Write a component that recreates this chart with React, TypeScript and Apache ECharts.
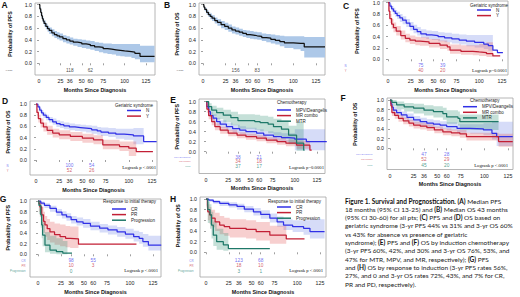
import React, { useEffect, useRef } from "react";
import * as echarts from "echarts";

// ---------------- data ----------------
const MONTH_TICKS = [0, 25, 36, 50, 60, 75, 100, 125];
const PROB_TICKS = [0, 0.2, 0.4, 0.6, 0.8, 1.0];
const RISK_MONTHS = [36, 60];

// A: PFS, all patients
const A_T = [0, 1, 2, 3, 4, 5, 6, 8, 10, 12, 15, 18, 21, 24, 28, 32, 36, 40, 45, 50, 55, 60, 65, 70, 75, 80, 85, 90, 95, 100, 108, 112, 118, 135];
const A_S = [1.0, 0.93, 0.87, 0.81, 0.76, 0.72, 0.68, 0.63, 0.59, 0.56, 0.52, 0.49, 0.47, 0.45, 0.42, 0.4, 0.38, 0.36, 0.35, 0.33, 0.32, 0.3, 0.28, 0.27, 0.25, 0.24, 0.23, 0.22, 0.21, 0.2, 0.19, 0.17, 0.12, 0.12];
const A_LO = [1.0, 0.9, 0.83, 0.77, 0.71, 0.67, 0.63, 0.58, 0.54, 0.5, 0.46, 0.43, 0.41, 0.39, 0.36, 0.34, 0.32, 0.3, 0.28, 0.26, 0.25, 0.23, 0.21, 0.19, 0.17, 0.16, 0.15, 0.13, 0.12, 0.11, 0.09, 0.07, 0.02, 0.02];
const A_HI = [1.0, 0.96, 0.91, 0.85, 0.8, 0.77, 0.73, 0.68, 0.64, 0.61, 0.58, 0.55, 0.53, 0.51, 0.48, 0.46, 0.44, 0.42, 0.41, 0.4, 0.39, 0.38, 0.36, 0.35, 0.34, 0.34, 0.33, 0.33, 0.33, 0.33, 0.33, 0.33, 0.3, 0.3];
const A_RISK = [118, 62];

// B: OS, all patients
const B_T = [0, 1, 2, 4, 6, 8, 10, 13, 16, 20, 24, 28, 32, 36, 40, 44, 48, 52, 56, 60, 65, 70, 75, 80, 85, 90, 100, 108, 112, 135];
const B_S = [1.0, 0.96, 0.92, 0.87, 0.83, 0.8, 0.77, 0.73, 0.7, 0.66, 0.63, 0.6, 0.57, 0.55, 0.53, 0.51, 0.49, 0.48, 0.47, 0.46, 0.44, 0.43, 0.41, 0.39, 0.37, 0.35, 0.34, 0.34, 0.28, 0.28];
const B_LO = [1.0, 0.94, 0.89, 0.83, 0.79, 0.75, 0.72, 0.68, 0.64, 0.6, 0.57, 0.54, 0.51, 0.49, 0.47, 0.45, 0.43, 0.42, 0.41, 0.4, 0.38, 0.36, 0.34, 0.32, 0.29, 0.26, 0.24, 0.21, 0.1, 0.1];
const B_HI = [1.0, 0.98, 0.95, 0.91, 0.87, 0.85, 0.82, 0.78, 0.75, 0.72, 0.69, 0.66, 0.63, 0.61, 0.59, 0.57, 0.56, 0.55, 0.54, 0.53, 0.51, 0.5, 0.49, 0.48, 0.47, 0.46, 0.46, 0.46, 0.45, 0.45];
const B_RISK = [156, 83];

// C: PFS by geriatric syndrome
const C_N_T = [0, 2, 4, 6, 8, 10, 13, 16, 20, 24, 28, 32, 36, 42, 48, 55, 62, 70, 78, 86, 95, 105, 110, 115, 120, 126];
const C_N_S = [1.0, 0.94, 0.89, 0.85, 0.81, 0.77, 0.73, 0.69, 0.64, 0.58, 0.53, 0.49, 0.45, 0.43, 0.42, 0.4, 0.38, 0.36, 0.34, 0.32, 0.3, 0.27, 0.24, 0.16, 0.12, 0.12];
const C_N_LO = [1.0, 0.9, 0.84, 0.79, 0.75, 0.71, 0.66, 0.62, 0.57, 0.51, 0.46, 0.42, 0.38, 0.36, 0.34, 0.32, 0.3, 0.28, 0.26, 0.23, 0.21, 0.18, 0.15, 0.16, 0.12, 0.12];
const C_N_HI = [1.0, 0.98, 0.94, 0.91, 0.87, 0.84, 0.8, 0.76, 0.71, 0.66, 0.61, 0.57, 0.53, 0.51, 0.5, 0.48, 0.47, 0.45, 0.44, 0.43, 0.43, 0.43, 0.43, 0.16, 0.12, 0.12];
const C_N_RISK = [75, 39];
const C_Y_T = [0, 1, 2, 4, 6, 9, 14, 19, 24, 30, 35, 45, 57, 65, 68, 80, 93, 100, 108, 115, 123];
const C_Y_S = [1.0, 0.85, 0.72, 0.62, 0.56, 0.5, 0.42, 0.37, 0.34, 0.32, 0.31, 0.28, 0.25, 0.22, 0.16, 0.14, 0.13, 0.12, 0.1, 0.06, 0.06];
const C_Y_LO = [1.0, 0.78, 0.64, 0.54, 0.48, 0.42, 0.35, 0.3, 0.27, 0.25, 0.24, 0.21, 0.18, 0.15, 0.1, 0.08, 0.07, 0.06, 0.04, 0.06, 0.06];
const C_Y_HI = [1.0, 0.91, 0.8, 0.71, 0.65, 0.59, 0.51, 0.45, 0.42, 0.4, 0.39, 0.36, 0.33, 0.3, 0.26, 0.25, 0.25, 0.27, 0.3, 0.06, 0.06];
const C_Y_RISK = [40, 20];

// D: OS by geriatric syndrome
const D_N_T = [0, 2, 4, 6, 8, 11, 14, 18, 22, 26, 30, 36, 42, 48, 54, 60, 66, 70, 78, 86, 95, 105, 116, 130];
const D_N_S = [1.0, 0.95, 0.89, 0.84, 0.8, 0.76, 0.72, 0.68, 0.65, 0.63, 0.61, 0.59, 0.58, 0.57, 0.56, 0.54, 0.52, 0.5, 0.48, 0.46, 0.45, 0.43, 0.33, 0.33];
const D_N_LO = [1.0, 0.92, 0.85, 0.79, 0.75, 0.71, 0.67, 0.63, 0.59, 0.57, 0.55, 0.53, 0.52, 0.51, 0.49, 0.47, 0.45, 0.43, 0.41, 0.38, 0.36, 0.28, 0.33, 0.33];
const D_N_HI = [1.0, 0.98, 0.93, 0.89, 0.85, 0.81, 0.77, 0.74, 0.71, 0.69, 0.67, 0.65, 0.64, 0.63, 0.62, 0.61, 0.59, 0.58, 0.57, 0.56, 0.56, 0.57, 0.33, 0.33];
const D_N_RISK = [100, 54];
const D_Y_T = [0, 1, 2.5, 5, 8, 12, 18, 25, 37, 50, 62, 72, 90, 100, 108, 126];
const D_Y_S = [1.0, 0.85, 0.74, 0.66, 0.59, 0.53, 0.48, 0.45, 0.42, 0.39, 0.36, 0.27, 0.24, 0.21, 0.15, 0.15];
const D_Y_LO = [1.0, 0.79, 0.67, 0.58, 0.51, 0.45, 0.4, 0.37, 0.34, 0.31, 0.28, 0.19, 0.16, 0.07, 0.15, 0.15];
const D_Y_HI = [1.0, 0.91, 0.81, 0.74, 0.67, 0.61, 0.56, 0.53, 0.5, 0.47, 0.44, 0.36, 0.33, 0.33, 0.15, 0.15];
const D_Y_RISK = [52, 26];

// E: PFS by induction chemotherapy
const E_M_T = [0, 1, 3, 5, 8, 12, 16, 23, 30, 38, 45, 57, 65, 76, 85, 93, 100, 113, 136];
const E_M_S = [1.0, 0.9, 0.8, 0.72, 0.67, 0.6, 0.55, 0.5, 0.46, 0.43, 0.4, 0.37, 0.33, 0.3, 0.28, 0.27, 0.25, 0.2, 0.2];
const E_M_LO = [1.0, 0.84, 0.73, 0.65, 0.59, 0.52, 0.47, 0.42, 0.38, 0.35, 0.32, 0.29, 0.25, 0.22, 0.19, 0.17, 0.03, 0.03, 0.03];
const E_M_HI = [1.0, 0.95, 0.87, 0.8, 0.75, 0.68, 0.63, 0.58, 0.54, 0.51, 0.48, 0.45, 0.41, 0.39, 0.37, 0.37, 0.45, 0.45, 0.45];
const E_M_RISK = [38, 21];
const E_R_T = [0, 1, 3, 6.4, 10, 16, 25, 35, 45, 57, 68, 80, 90, 102, 117, 119];
const E_R_S = [1.0, 0.85, 0.72, 0.6, 0.5, 0.43, 0.37, 0.33, 0.3, 0.27, 0.23, 0.2, 0.17, 0.13, 0.03, 0.03];
const E_R_LO = [1.0, 0.78, 0.65, 0.53, 0.43, 0.36, 0.31, 0.27, 0.24, 0.21, 0.17, 0.14, 0.11, 0.06, 0.03, 0.03];
const E_R_HI = [1.0, 0.9, 0.79, 0.67, 0.57, 0.5, 0.44, 0.39, 0.36, 0.33, 0.29, 0.27, 0.24, 0.22, 0.03, 0.03];
const E_R_RISK = [34, 18];
const E_G_T = [0, 3, 6.4, 12, 19.5, 28, 36, 45, 55, 61, 70, 76, 85, 93, 102, 110, 111];
const E_G_S = [1.0, 0.9, 0.83, 0.78, 0.73, 0.68, 0.62, 0.62, 0.6, 0.58, 0.55, 0.5, 0.45, 0.33, 0.17, 0.03, 0.03];
const E_G_LO = [1.0, 0.8, 0.71, 0.65, 0.59, 0.53, 0.46, 0.46, 0.44, 0.41, 0.37, 0.32, 0.26, 0.15, 0.02, 0.03, 0.03];
const E_G_HI = [1.0, 0.97, 0.92, 0.88, 0.84, 0.8, 0.75, 0.75, 0.74, 0.72, 0.7, 0.66, 0.62, 0.52, 0.6, 0.03, 0.03];
const E_G_RISK = [37, 17];

// F: OS by induction chemotherapy
const F_M_T = [0, 1, 2, 3.5, 7, 12, 18, 25, 32, 39, 46, 53, 60, 71, 85, 99, 108, 113, 130];
const F_M_S = [1.0, 0.92, 0.85, 0.79, 0.74, 0.69, 0.64, 0.59, 0.55, 0.52, 0.5, 0.48, 0.45, 0.41, 0.4, 0.38, 0.31, 0.24, 0.24];
const F_M_LO = [1.0, 0.87, 0.79, 0.72, 0.67, 0.61, 0.56, 0.51, 0.47, 0.44, 0.42, 0.4, 0.37, 0.32, 0.3, 0.27, 0.18, 0.05, 0.05];
const F_M_HI = [1.0, 0.96, 0.91, 0.86, 0.81, 0.76, 0.72, 0.67, 0.63, 0.6, 0.58, 0.56, 0.54, 0.5, 0.5, 0.52, 0.55, 0.55, 0.55];
const F_M_RISK = [47, 28];
const F_R_T = [0, 1, 2, 5, 9, 14, 20, 25, 32, 39, 47, 56, 65, 74, 81, 115, 130];
const F_R_S = [1.0, 0.88, 0.74, 0.68, 0.62, 0.57, 0.52, 0.48, 0.46, 0.43, 0.38, 0.34, 0.32, 0.3, 0.24, 0.14, 0.14];
const F_R_LO = [1.0, 0.83, 0.67, 0.61, 0.55, 0.5, 0.45, 0.41, 0.39, 0.36, 0.31, 0.27, 0.25, 0.22, 0.16, 0.03, 0.03];
const F_R_HI = [1.0, 0.93, 0.81, 0.75, 0.69, 0.64, 0.59, 0.55, 0.53, 0.5, 0.45, 0.41, 0.39, 0.38, 0.32, 0.3, 0.3];
const F_R_RISK = [52, 29];
const F_G_T = [0, 2, 7, 15, 25, 36, 46, 56, 60, 72, 74, 115];
const F_G_S = [1.0, 0.95, 0.9, 0.86, 0.83, 0.79, 0.76, 0.72, 0.65, 0.62, 0.55, 0.55];
const F_G_LO = [1.0, 0.87, 0.81, 0.76, 0.72, 0.68, 0.64, 0.59, 0.51, 0.47, 0.38, 0.38];
const F_G_HI = [1.0, 1.0, 0.97, 0.94, 0.92, 0.89, 0.87, 0.84, 0.79, 0.76, 0.7, 0.7];
const F_G_RISK = [45, 20];

// G: PFS by response to initial therapy
const G_C_T = [0, 3, 7, 13, 20, 26, 31, 36, 42, 49, 57, 67, 76, 86, 95, 104, 110, 114, 120, 134];
const G_C_S = [1.0, 0.96, 0.92, 0.86, 0.79, 0.74, 0.7, 0.65, 0.61, 0.58, 0.53, 0.49, 0.46, 0.42, 0.38, 0.33, 0.3, 0.24, 0.17, 0.17];
const G_C_LO = [1.0, 0.92, 0.87, 0.8, 0.72, 0.67, 0.63, 0.58, 0.54, 0.5, 0.45, 0.41, 0.37, 0.33, 0.29, 0.24, 0.2, 0.14, 0.07, 0.07];
const G_C_HI = [1.0, 0.99, 0.96, 0.91, 0.85, 0.81, 0.77, 0.72, 0.69, 0.66, 0.61, 0.57, 0.54, 0.51, 0.48, 0.44, 0.42, 0.38, 0.35, 0.35];
const G_C_RISK = [98, 55];
const G_P_T = [0, 1, 2, 4, 6, 7.6, 10, 13, 18, 24, 30, 35, 44, 107];
const G_P_S = [1.0, 0.95, 0.89, 0.74, 0.62, 0.55, 0.48, 0.42, 0.37, 0.33, 0.3, 0.29, 0.19, 0.19];
const G_P_LO = [1.0, 0.8, 0.7, 0.52, 0.4, 0.33, 0.27, 0.22, 0.18, 0.15, 0.13, 0.12, 0.19, 0.19];
const G_P_HI = [1.0, 1.0, 0.98, 0.89, 0.8, 0.72, 0.66, 0.61, 0.58, 0.56, 0.53, 0.52, 0.19, 0.19];
const G_P_RISK = [10, 3];
const G_G_T = [0, 1, 3, 4, 5, 7.6, 13, 20, 27, 32, 37];
const G_G_S = [1.0, 0.92, 0.74, 0.55, 0.36, 0.17, 0.08, 0.05, 0.02, 0.02, 0.02];
const G_G_LO = [1.0, 0.75, 0.5, 0.3, 0.15, 0.04, 0.01, 0.0, 0.0, 0.02, 0.02];
const G_G_HI = [1.0, 1.0, 0.92, 0.78, 0.6, 0.42, 0.35, 0.3, 0.25, 0.02, 0.02];
const G_G_RISK = [0];

// H: OS by response to initial therapy
const H_C_T = [0, 3, 8, 15, 25, 34, 42, 52, 60, 70, 78, 85, 95, 107, 114, 130];
const H_C_S = [1.0, 0.98, 0.95, 0.92, 0.89, 0.86, 0.81, 0.76, 0.71, 0.64, 0.57, 0.51, 0.48, 0.45, 0.39, 0.39];
const H_C_LO = [1.0, 0.95, 0.91, 0.87, 0.84, 0.8, 0.75, 0.69, 0.63, 0.56, 0.48, 0.42, 0.38, 0.33, 0.26, 0.26];
const H_C_HI = [1.0, 1.0, 0.98, 0.96, 0.94, 0.91, 0.87, 0.83, 0.79, 0.73, 0.67, 0.62, 0.6, 0.6, 0.62, 0.62];
const H_C_RISK = [123, 68];
const H_P_T = [0, 1.5, 2, 4, 6, 10, 15, 20, 26, 44, 55, 70, 88, 108];
const H_P_S = [1.0, 0.89, 0.76, 0.7, 0.64, 0.57, 0.51, 0.48, 0.45, 0.43, 0.39, 0.32, 0.25, 0.25];
const H_P_LO = [1.0, 0.75, 0.6, 0.53, 0.47, 0.4, 0.34, 0.31, 0.28, 0.26, 0.22, 0.16, 0.25, 0.25];
const H_P_HI = [1.0, 0.98, 0.9, 0.85, 0.8, 0.74, 0.68, 0.65, 0.62, 0.6, 0.57, 0.5, 0.25, 0.25];
const H_P_RISK = [18, 10];
const H_G_T = [0, 2, 4.4, 6, 8, 11.7, 19, 24.5, 70];
const H_G_S = [1.0, 0.8, 0.7, 0.51, 0.32, 0.2, 0.14, 0.07, 0.07];
const H_G_LO = [1.0, 0.55, 0.44, 0.26, 0.12, 0.05, 0.03, 0.07, 0.07];
const H_G_HI = [1.0, 0.95, 0.9, 0.76, 0.58, 0.44, 0.36, 0.07, 0.07];
const H_G_RISK = [3, 1];

const CAPTION_LINES = [
  "{b|Figure 1. Survival and Prognostication. (A)} Median PFS",
  "18 months (95% CI 13-25) and {b|(B)} Median OS 43 months",
  "(95% CI 30-60) for all pts; {b|(C)} PFS and {b|(D)} OS based on",
  "geriatric syndrome (3-yr PFS 44% vs 31% and 3-yr OS 60%",
  "vs 43% for absence vs presence of geriatric",
  "syndrome); {b|(E)} PFS and {b|(F)} OS by induction chemotherapy",
  "(3-yr PFS 60%, 42%, and 30% and 3-yr OS 76%, 53%, and",
  "47% for MTR, MPV, and MR, respectively); {b|(G)} PFS",
  "and {b|(H)} OS by response to induction (3-yr PFS rates 56%,",
  "27%, and 0 and 3-yr OS rates 72%, 43%, and 7% for CR,",
  "PR and PD, respectively).",
];

// ---------------- styles ----------------
const FONT = "'Liberation Sans', Arial, sans-serif";
const SERIF = "'Liberation Serif', 'Times New Roman', serif";
const BLACK = { color: "#111111", band: "#adc8e8", risk: "#111111" };
const BLUE = { color: "#3030e6", band: "rgba(70,95,225,0.22)", risk: "#4a4aee" };
const RED = { color: "#c21f35", band: "rgba(225,70,70,0.26)", risk: "#c83446" };
const GREEN = { color: "#1e7868", band: "rgba(40,140,110,0.27)", risk: "#258574" };

const mk = (name: string, rowLabel: string, pal: any, t: number[], s: number[], lo: number[], hi: number[], risk: number[]) => ({
  name, rowLabel, color: pal.color, band: pal.band, riskColor: pal.risk, t, s, lo, hi, risk,
});

const PANELS: any[] = [
  {
    letter: "A", lx: 4.5, ly: 5, box: { l: 35, r: 155, t: 3, b: 75 }, x0: 39, x125: 146, y1: 4.7, y0: 63.3,
    yTitle: "Probability of PFS", yTitleX: 10, rows: [70], rowRight: 13, rowFont: 2.4,
    curves: [mk("All PFS", "At Risk", BLACK, A_T, A_S, A_LO, A_HI, A_RISK)],
  },
  {
    letter: "B", lx: 167, ly: 5, box: { l: 199, r: 325, t: 3, b: 75 }, x0: 203, x125: 316, y1: 4.7, y0: 63.3,
    yTitle: "Probability of OS", yTitleX: 177, rows: [70], rowRight: 184, rowFont: 2.4,
    curves: [mk("All OS", "At Risk", BLACK, B_T, B_S, B_LO, B_HI, B_RISK)],
  },
  {
    letter: "C", lx: 346, ly: 6, box: { l: 383, r: 508, t: 1, b: 75 }, x0: 388, x125: 502, y1: 2.7, y0: 59.3,
    yTitle: "Probability of PFS", yTitleX: 357, rows: [65.7, 70.7], rowRight: 347, rowFont: 2.8,
    curves: [mk("N", "N", BLUE, C_N_T, C_N_S, C_N_LO, C_N_HI, C_N_RISK), mk("Y", "Y", RED, C_Y_T, C_Y_S, C_Y_LO, C_Y_HI, C_Y_RISK)],
    legend: { title: "Geriatric syndrome", titleX: 470, titleY: 5, left: 477, top: 10 },
    logrank: { text: "Logrank p=0.0001", right: 507, y: 70.5 },
  },
  {
    letter: "D", lx: 5, ly: 101, box: { l: 30, r: 157, t: 101, b: 175 }, x0: 36, x125: 152, y1: 104, y0: 160,
    yTitle: "Probability of OS", yTitleX: 8, rows: [165.7, 170.7], rowRight: 9, rowFont: 2.8,
    curves: [mk("N", "N", BLUE, D_N_T, D_N_S, D_N_LO, D_N_HI, D_N_RISK), mk("Y", "Y", RED, D_Y_T, D_Y_S, D_Y_LO, D_Y_HI, D_Y_RISK)],
    legend: { title: "Geriatric syndrome", titleX: 115, titleY: 105.7, left: 127, top: 110.5 },
    logrank: { text: "Logrank p <.0001", right: 156, y: 167.5 },
  },
  {
    letter: "E", lx: 173, ly: 100, box: { l: 199, r: 325, t: 99, b: 173.5 }, x0: 206, x125: 317, y1: 101.7, y0: 151.7,
    yTitle: "Probability of PFS", yTitleX: 177, rows: [157.3, 161.7, 166.2], rowRight: 191, rowFont: 2.4,
    curves: [
      mk("MPV/Deangelis", "MPV/Deangelis", BLUE, E_M_T, E_M_S, E_M_LO, E_M_HI, E_M_RISK),
      mk("MR combo", "MR combo", RED, E_R_T, E_R_S, E_R_LO, E_R_HI, E_R_RISK),
      mk("MTR", "MTR", GREEN, E_G_T, E_G_S, E_G_LO, E_G_HI, E_G_RISK),
    ],
    legend: { title: "Chemotherapy", titleX: 277, titleY: 102, left: 277, top: 110 },
    logrank: { text: "Logrank p=0.0001", right: 324, y: 167 },
  },
  {
    letter: "F", lx: 343, ly: 98, box: { l: 387, r: 513, t: 98, b: 169.5 }, x0: 390, x125: 508, y1: 100, y0: 148.3,
    yTitle: "Probability of OS", yTitleX: 355, rows: [154.3, 159.5, 165.5], rowRight: 373, rowFont: 2.4,
    curves: [
      mk("MPV/Deangelis", "MPV/Deangelis", BLUE, F_M_T, F_M_S, F_M_LO, F_M_HI, F_M_RISK),
      mk("MR combo", "MR combo", RED, F_R_T, F_R_S, F_R_LO, F_R_HI, F_R_RISK),
      mk("MTR", "MTR", GREEN, F_G_T, F_G_S, F_G_LO, F_G_HI, F_G_RISK),
    ],
    legend: { title: "Chemotherapy", titleX: 470, titleY: 100.5, left: 463, top: 106.7 },
    logrank: { text: "Logrank p <.0001", right: 508, y: 165.7 },
  },
  {
    letter: "G", lx: 3, ly: 199, box: { l: 30, r: 161, t: 199, b: 277 }, x0: 38, x125: 153, y1: 201, y0: 254.3,
    yTitle: "Probability of PFS", yTitleX: 8, rows: [260.7, 265.8, 271], rowRight: 26, rowFont: 2.9,
    curves: [
      mk("CR", "CR", BLUE, G_C_T, G_C_S, G_C_LO, G_C_HI, G_C_RISK),
      mk("PR", "PR", RED, G_P_T, G_P_S, G_P_LO, G_P_HI, G_P_RISK),
      mk("Progression", "Progression", GREEN, G_G_T, G_G_S, G_G_LO, G_G_HI, G_G_RISK),
    ],
    legend: { title: "Response to initial therapy", titleX: 103, titleY: 201.5, left: 112, top: 209 },
    logrank: { text: "Logrank p <.0001", right: 158, y: 270.3 },
  },
  {
    letter: "H", lx: 173, ly: 199, box: { l: 200, r: 326, t: 197, b: 277 }, x0: 206, x125: 320, y1: 199, y0: 252.3,
    yTitle: "Probability of OS", yTitleX: 178, rows: [260.3, 265.8, 271], rowRight: 194, rowFont: 2.9,
    curves: [
      mk("CR", "CR", BLUE, H_C_T, H_C_S, H_C_LO, H_C_HI, H_C_RISK),
      mk("PR", "PR", RED, H_P_T, H_P_S, H_P_LO, H_P_HI, H_P_RISK),
      mk("Progression", "Progression", GREEN, H_G_T, H_G_S, H_G_LO, H_G_HI, H_G_RISK),
    ],
    legend: { title: "Response to initial therapy", titleX: 268, titleY: 201.5, left: 277, top: 207 },
    logrank: { text: "Logrank p <.0001", right: 323, y: 270.3 },
  },
];

function buildOption() {
  const grid: any[] = [];
  const xAxis: any[] = [];
  const yAxis: any[] = [];
  const series: any[] = [];
  const legend: any[] = [];
  const graphic: any[] = [];

  PANELS.forEach((p, i) => {
    const ppm = (p.x125 - p.x0) / 125;
    const ppu = p.y0 - p.y1;
    const xMin = (p.box.l - p.x0) / ppm;
    const xMax = (p.box.r - p.x0) / ppm;
    const yMin = (p.y0 - p.box.b) / ppu;
    const yMax = (p.y0 - p.box.t) / ppu;

    grid.push({
      left: p.box.l, top: p.box.t, width: p.box.r - p.box.l, height: p.box.b - p.box.t,
      show: true, borderColor: "#a3a3a3", borderWidth: 0.8, containLabel: false,
    });
    xAxis.push({
      type: "value", gridIndex: i, min: xMin, max: xMax,
      axisLine: { show: false }, splitLine: { show: false },
      axisTick: { show: true, customValues: MONTH_TICKS, length: 2, lineStyle: { color: "#777", width: 0.7 } },
      axisLabel: { customValues: MONTH_TICKS, fontSize: 5.3, color: "#222", margin: 3.5, fontFamily: FONT },
      name: "Months Since Diagnosis", nameLocation: "middle", nameGap: 12.3,
      nameTextStyle: { fontSize: 5.4, fontWeight: "bold", color: "#111", fontFamily: FONT },
    });
    yAxis.push({
      type: "value", gridIndex: i, min: yMin, max: yMax,
      axisLine: { show: false }, splitLine: { show: false },
      axisTick: { show: true, customValues: PROB_TICKS, length: 2, lineStyle: { color: "#777", width: 0.7 } },
      axisLabel: { customValues: PROB_TICKS, formatter: (v: number) => v.toFixed(1), fontSize: 5.3, color: "#222", margin: 3, fontFamily: FONT },
    });

    p.curves.forEach((c: any, k: number) => {
      // confidence band
      series.push({
        type: "custom", name: c.name + " band", xAxisIndex: i, yAxisIndex: i, silent: true, clip: true, z: 1,
        data: [[c.t[0], c.s[0]]], encode: { x: 0, y: 1 },
        renderItem: (_params: any, api: any) => {
          const top: number[][] = [];
          const bot: number[][] = [];
          for (let j = 0; j < c.t.length - 1; j++) {
            top.push(api.coord([c.t[j], c.hi[j]]), api.coord([c.t[j + 1], c.hi[j]]));
            bot.push(api.coord([c.t[j], c.lo[j]]), api.coord([c.t[j + 1], c.lo[j]]));
          }
          return { type: "polygon", shape: { points: top.concat(bot.reverse()) }, style: { fill: c.band } };
        },
      });
      // survival curve
      series.push({
        type: "line", name: c.name, xAxisIndex: i, yAxisIndex: i, step: "end", symbol: "none", silent: true, z: 3,
        data: c.t.map((x: number, j: number) => [x, c.s[j]]),
        lineStyle: { color: c.color, width: 1.25 }, itemStyle: { color: c.color },
      });
      // at-risk numbers
      const rowY = (p.y0 - p.rows[k]) / ppu;
      series.push({
        type: "scatter", name: c.name + " at risk", xAxisIndex: i, yAxisIndex: i, clip: false, silent: true, z: 4,
        symbolSize: 1, itemStyle: { color: "rgba(0,0,0,0)" },
        data: c.risk.map((n: number, j: number) => [RISK_MONTHS[j], rowY, n]),
        label: { show: true, position: "inside", formatter: (pp: any) => String(pp.value[2]), fontSize: 4.8, color: c.riskColor, fontFamily: FONT },
      });
      // row label
      series.push({
        type: "scatter", name: c.name + " row", xAxisIndex: i, yAxisIndex: i, clip: false, silent: true, z: 4,
        symbolSize: 1, itemStyle: { color: "rgba(0,0,0,0)" },
        data: [[xMin, rowY]],
        label: { show: true, position: "left", distance: p.box.l - p.rowRight, formatter: c.rowLabel, fontSize: p.rowFont, color: c.riskColor, fontFamily: FONT },
      });
    });

    if (p.legend) {
      legend.push({
        data: p.curves.map((c: any) => c.name), orient: "vertical", left: p.legend.left, top: p.legend.top - 2.8,
        itemWidth: 14, itemHeight: 1.5, itemGap: 0, icon: "rect", padding: 0, selectedMode: false,
        textStyle: { fontSize: 4.5, lineHeight: 5.6, color: "#222", fontFamily: FONT },
      });
      graphic.push({
        type: "text", x: p.legend.titleX, y: p.legend.titleY, silent: true,
        style: { text: p.legend.title, fontSize: 4.5, fill: "#222", fontFamily: FONT, align: "left", verticalAlign: "middle" },
      });
    }
    if (p.logrank) {
      graphic.push({
        type: "text", x: p.logrank.right, y: p.logrank.y, silent: true,
        style: { text: p.logrank.text, fontSize: 4.7, fill: "#111", fontFamily: SERIF, align: "right", verticalAlign: "middle" },
      });
    }
    graphic.push({
      type: "text", x: p.yTitleX, y: (p.y0 + p.y1) / 2, rotation: Math.PI / 2, silent: true,
      style: { text: p.yTitle, fontSize: 5.3, fontWeight: "bold", fill: "#111", fontFamily: FONT, align: "center", verticalAlign: "middle" },
    });
    graphic.push({
      type: "text", x: p.lx, y: p.ly, silent: true,
      style: { text: p.letter, fontSize: 8.5, fontWeight: "bold", fill: "#111", fontFamily: FONT, align: "center", verticalAlign: "middle" },
    });
  });

  CAPTION_LINES.forEach((line, j) => {
    graphic.push({
      type: "text", x: 345, y: 201 + j * 8.33, silent: true,
      style: {
        text: line, fontSize: 6.5, fill: "#222", fontFamily: "Lato, 'Open Sans', sans-serif", align: "left", verticalAlign: "middle",
        rich: { b: { fontSize: 6.5, fontWeight: "bold", fill: "#111", fontFamily: "Lato, 'Open Sans', sans-serif" } },
      },
    });
  });

  return {
    animation: false,
    backgroundColor: "#ffffff",
    grid, xAxis, yAxis, series, legend, graphic,
  };
}

export default function App() {
  const ref = useRef<HTMLDivElement>(null);
  useEffect(() => {
    if (!ref.current) return;
    const chart = echarts.init(ref.current, undefined, { renderer: "svg" });
    chart.setOption(buildOption() as any);
    return () => chart.dispose();
  }, []);
  return (
    <div
      ref={ref}
      style={{ position: "fixed", left: 0, top: 0, width: 520, height: 297, background: "#fff" }}
    />
  );
}
